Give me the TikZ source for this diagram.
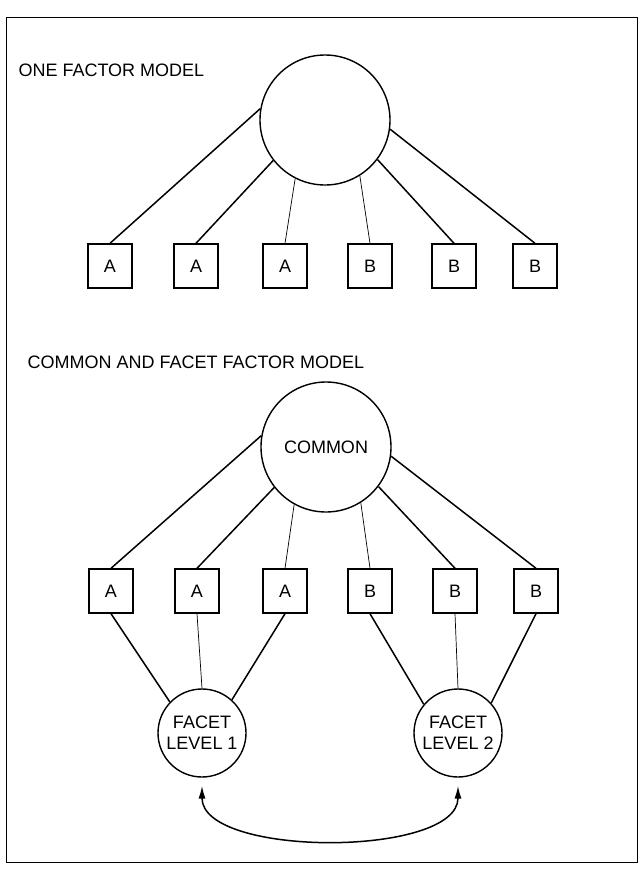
\documentclass[tikz,border=0pt]{standalone}
\usepackage{fontspec}
\setmainfont{Liberation Sans}
\usetikzlibrary{arrows.meta}

\begin{document}
\begin{tikzpicture}[x=1pt,y=-1pt,
    every node/.style={font=\fontsize{18}{21}\selectfont},
    item/.style={draw,line width=1.4pt,minimum size=44pt,inner sep=0pt},
    factor/.style={draw,circle,line width=1.4pt,minimum size=130pt,inner sep=0pt},
    facet/.style={draw,circle,line width=1.4pt,minimum size=88pt,inner sep=0pt,align=center},
    link/.style={line width=1.5pt},
    faint/.style={line width=0.7pt}]

    \useasboundingbox (0,0) rectangle (643,875);
    \draw[line width=1pt] (6,18) rectangle (637,862);

    % the titles

    \node[anchor=base west] (title1) at (15,76) {ONE FACTOR MODEL};
    \node[anchor=base west] (title2) at (24,368) {COMMON AND FACET FACTOR MODEL};

    % one factor model

    \node[factor] (one) at (325,120) {};
    \node[item] (a1) at (110,266) {A};
    \node[item] (a2) at (196,266) {A};
    \node[item] (a3) at (285,266) {A};
    \node[item] (b1) at (370,266) {B};
    \node[item] (b2) at (454,266) {B};
    \node[item] (b3) at (535,266) {B};

    \draw[link] (one.170) to (a1.north);
    \draw[link] (one.218) to (a2.north);
    \draw[faint] (one.243) to (a3.north);
    \draw[faint] (one.302) to (b1.north);
    \draw[link] (one.323) to (b2.north);
    \draw[link] (one.352) to (b3.north);

    % common and facet factor model

    \node[factor] (common) at (326,447) {COMMON};
    \node[item] (c1) at (111,591) {A};
    \node[item] (c2) at (197,591) {A};
    \node[item] (c3) at (285,591) {A};
    \node[item] (d1) at (370,591) {B};
    \node[item] (d2) at (455,591) {B};
    \node[item] (d3) at (536,591) {B};
    \node[facet] (f1) at (202,733) {FACET\\LEVEL 1};
    \node[facet] (f2) at (458,733) {FACET\\LEVEL 2};

    \draw[link] (common.170) to (c1.north);
    \draw[link] (common.218) to (c2.north);
    \draw[faint] (common.241) to (c3.north);
    \draw[faint] (common.302) to (d1.north);
    \draw[link] (common.323) to (d2.north);
    \draw[link] (common.352) to (d3.north);

    \draw[link] (c1.south) to (f1.136);
    \draw[faint] (c2.south) to (f1.north);
    \draw[link] (c3.south) to (f1.48);
    \draw[link] (d1.south) to (f2.140);
    \draw[faint] (d2.south) to (f2.north);
    \draw[link] (d3.south) to (f2.42);

    \draw[link,{Latex[length=13pt,width=7pt]}-{Latex[length=13pt,width=7pt]},
    shorten <=8pt,shorten >=8pt] (f1) to[out=-90,in=-90,looseness=0.8] (f2);
  \end{tikzpicture}
\end{document}
